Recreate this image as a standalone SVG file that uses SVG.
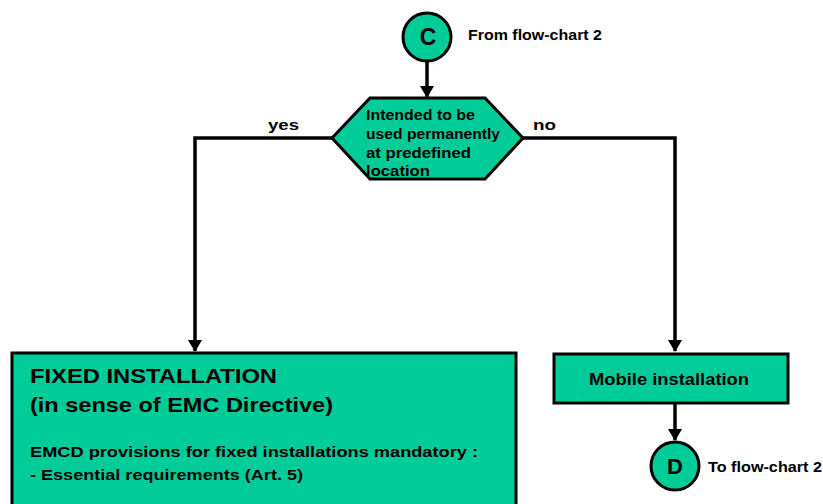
<svg xmlns="http://www.w3.org/2000/svg" width="823" height="504" viewBox="0 0 823 504">
<style>
.s{fill:#00CC99;stroke:#000;stroke-width:3}
.t{font-family:"Liberation Sans",Arial,sans-serif;font-weight:bold;fill:#000}
.c{fill:none;stroke:#000;stroke-width:3.5}
</style>
<defs>
<marker id="a" markerWidth="12" markerHeight="14" refX="11" refY="7" orient="auto" markerUnits="userSpaceOnUse" viewBox="0 0 12 14">
<path d="M0,0 L12,7 L0,14 z" fill="#000"/>
</marker>
</defs>
<rect width="823" height="504" fill="#fff"/>
<g id="connectors">
<line class="c" x1="427" y1="61" x2="427" y2="97" marker-end="url(#a)"/>
<polyline class="c" points="332,138 195,138 195,351" marker-end="url(#a)"/>
<polyline class="c" points="523,138 675,138 675,351" marker-end="url(#a)"/>
<line class="c" x1="675" y1="403" x2="675" y2="440" marker-end="url(#a)"/>
<text class="t" x="268" y="130" font-size="15" textLength="31" lengthAdjust="spacingAndGlyphs">yes</text>
<text class="t" x="533" y="130" font-size="15" textLength="23" lengthAdjust="spacingAndGlyphs">no</text>
</g>
<g id="nodeC">
<circle class="s" cx="427" cy="37" r="24"/>
<text class="t" x="428" y="45" font-size="23" text-anchor="middle">C</text>
<text class="t" x="468" y="40" font-size="14" textLength="134" lengthAdjust="spacingAndGlyphs">From flow-chart 2</text>
</g>
<g id="decision">
<polygon class="s" points="332,138 370,98 485,98 523,138 485,179 370,179"/>
<text class="t" font-size="14.5" x="366" y="120" textLength="109" lengthAdjust="spacingAndGlyphs">Intended to be</text>
<text class="t" font-size="14.5" x="366" y="139" textLength="134" lengthAdjust="spacingAndGlyphs">used permanently</text>
<text class="t" font-size="14.5" x="366" y="158" textLength="105" lengthAdjust="spacingAndGlyphs">at predefined</text>
<text class="t" font-size="14.5" x="366" y="176" textLength="64" lengthAdjust="spacingAndGlyphs">location</text>
</g>
<g id="fixed">
<rect class="s" x="12" y="353" width="504" height="160"/>
<text class="t" x="30" y="383" font-size="21" textLength="247" lengthAdjust="spacingAndGlyphs">FIXED INSTALLATION</text>
<text class="t" x="30" y="412" font-size="21" textLength="303" lengthAdjust="spacingAndGlyphs">(in sense of EMC Directive)</text>
<text class="t" x="30" y="457" font-size="15.5" textLength="448" lengthAdjust="spacingAndGlyphs">EMCD provisions for fixed installations mandatory :</text>
<text class="t" x="30" y="480" font-size="15.5" textLength="273" lengthAdjust="spacingAndGlyphs">- Essential requirements (Art. 5)</text>
</g>
<g id="mobile">
<rect class="s" x="554" y="354" width="234" height="49"/>
<text class="t" x="589" y="385" font-size="16" textLength="160" lengthAdjust="spacingAndGlyphs">Mobile installation</text>
</g>
<g id="nodeD">
<circle class="s" cx="675" cy="466" r="24"/>
<text class="t" x="675" y="474" font-size="22" text-anchor="middle">D</text>
<text class="t" x="708" y="472" font-size="14" textLength="114" lengthAdjust="spacingAndGlyphs">To flow-chart 2</text>
</g>
</svg>
